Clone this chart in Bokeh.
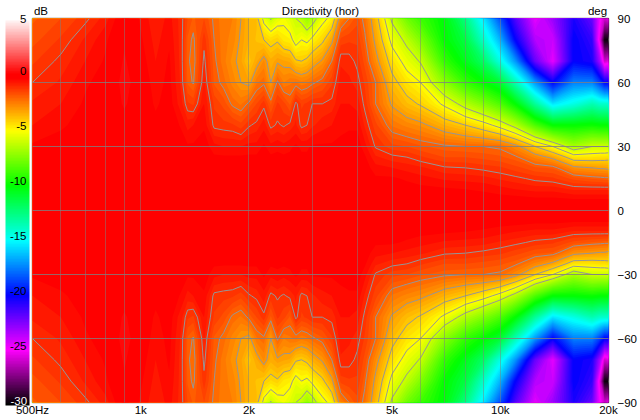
import numpy as np
from bokeh.plotting import figure
from bokeh.embed import file_html
from bokeh.resources import INLINE
from bokeh.models import ColorBar, FixedTicker, LinearAxis, LinearColorMapper, LinearScale, Range1d

freqs = [500, 600, 700, 800, 900, 1000, 1100, 1200, 1300, 1350, 1400, 1500, 1600, 1700, 1800, 1900,
         2000, 2100, 2200, 2300, 2400, 2500, 2600, 2700, 2800, 2900, 3000, 3200, 3400, 3600, 3800,
         4000, 4200, 4500, 5000, 5500, 6000, 7000, 8000, 9000, 10000, 11000, 12500, 14000, 16000,
         18000, 19000, 19500, 20000]
angles_top = [90, 80, 70, 60, 50, 40, 30, 25, 20, 15, 10, 5, 0]

f500 = [-1.8, -1.6, -1.3, -1.0, -.7, -.5, -.2, -.1, 0, 0, 0, 0, 0]
f600 = [-1.5, -1.2, -.9, -.7, -.5, -.3, -.1, -.05, 0, 0, 0, 0, 0]
f700 = [-1.1, -.7, -.5, -.3, -.2, -.1, -.05, 0, 0, 0, 0, 0, 0]
f800 = [-.6, -.3, -.2, -.1, -.05, 0, 0, 0, 0, 0, 0, 0, 0]
f900 = [.1, .2, .3, .4, .3, .1, 0, 0, 0, 0, 0, 0, 0]
f1000 = [-.3, -.2, -.1, 0, 0, 0, 0, 0, 0, 0, 0, 0, 0]
f1100 = [-.7, -.6, -.5, -.4, -.3, -.15, -.05, 0, 0, 0, 0, 0, 0]
f1200 = [-.4, -.3, -.2, -.15, -.1, -.05, 0, 0, 0, 0, 0, 0, 0]
f1300 = [-.9, -.9, -.9, -.85, -.7, -.3, -.1, -.05, 0, 0, 0, 0, 0]
f1350 = [-1.5, -1.8, -1.9, -1.8, -1.2, -.6, -.2, -.1, 0, 0, 0, 0, 0]
f1400 = [-1.8, -2.1, -2.2, -2.05, -1.3, -.5, -.2, -.1, 0, 0, 0, 0, 0]
f1500 = [-1.5, -1.1, -.9, -.7, -.5, -.3, -.1, -.05, 0, 0, 0, 0, 0]
f1600 = [-2.1, -2.0, -1.9, -1.8, -1.3, -1.1, -.4, -.2, -.1, 0, 0, 0, 0]
f1700 = [-2.4, -2.4, -2.4, -2.15, -1.6, -1.15, -.5, -.2, -.1, 0, 0, 0, 0]
f1800 = [-2.5, -2.6, -2.85, -2.6, -2.1, -1.2, -.5, -.2, -.1, 0, 0, 0, 0]
f1900 = [-3.0, -3.1, -3.2, -3.0, -2.3, -1.4, -.5, -.2, -.1, 0, 0, 0, 0]
f2000 = [-3.5, -3.5, -3.9, -3.2, -1.9, -1.05, -.4, -.2, -.1, 0, 0, 0, 0]
f2100 = [-3.7, -3.8, -3.3, -2.3, -1.5, -.9, -.4, -.2, -.1, 0, 0, 0, 0]
f2200 = [-5.3, -4.0, -2.7, -2.1, -1.1, -.6, -.2, -.1, 0, 0, 0, 0, 0]
f2300 = [-6.1, -4.3, -3.4, -3.0, -1.8, -1.1, -.4, -.2, -.1, 0, 0, 0, 0]
f2400 = [-5.5, -4.1, -3.1, -1.9, -1.2, -.95, -.3, -.2, -.1, 0, 0, 0, 0]
f2500 = [-5.2, -4.6, -3.2, -2.5, -1.4, -1.05, -.4, -.2, -.1, 0, 0, 0, 0]
f2600 = [-5.6, -4.7, -3.3, -2.3, -1.8, -.9, -.3, -.2, -.1, 0, 0, 0, 0]
f2700 = [-6.0, -5.4, -3.9, -2.2, -.9, -.7, -.2, -.1, 0, 0, 0, 0, 0]
f2800 = [-6.3, -5.0, -4.0, -2.4, -1.3, -1.1, -.3, -.2, -.1, 0, 0, 0, 0]
f2900 = [-7.0, -5.2, -3.8, -2.3, -1.2, -1.0, -.3, -.2, -.1, 0, 0, 0, 0]
f3000 = [-6.5, -4.8, -3.4, -2.1, -1.0, -.8, -.2, -.1, 0, 0, 0, 0, 0]
f3200 = [-5.3, -4.2, -2.9, -1.8, -1.0, -.6, -.2, -.1, 0, 0, 0, 0, 0]
f3400 = [-4.7, -3.2, -2.0, -1.3, -.9, -.5, -.2, -.1, 0, 0, 0, 0, 0]
f3600 = [-2.5, -1.4, -.8, -.6, -.5, -.3, -.2, -.1, 0, 0, 0, 0, 0]
f3800 = [-2.0, -1.3, -.85, -.7, -.5, -.3, -.1, -.05, 0, 0, 0, 0, 0]
f4000 = [-1.6, -1.3, -1.1, -.85, -.6, -.3, -.1, -.05, 0, 0, 0, 0, 0]
f4200 = [-2.2, -1.9, -1.6, -1.3, -1.1, -.8, -.4, -.2, -.1, 0, 0, 0, 0]
f4500 = [-3.6, -3.2, -2.7, -2.0, -2.0, -1.4, -1.05, -.7, -.4, -.2, -.05, 0, 0]
f5000 = [-6.2, -5.3, -4.4, -3.7, -3.1, -2.3, -1.4, -.9, -.5, -.2, -.1, 0, 0]
f5500 = [-7.8, -6.3, -5.4, -4.5, -3.7, -2.6, -1.5, -1.0, -.6, -.3, -.1, 0, 0]
f6000 = [-8.8, -7.5, -6.1, -5.0, -4.1, -2.8, -1.7, -1.2, -.7, -.4, -.15, 0, 0]
f7000 = [-10.2, -10.0, -9.0, -7.3, -5.2, -3.5, -1.9, -1.5, -.95, -.55, -.2, -.05, 0]
f8000 = [-12.5, -11.3, -10.5, -9.0, -6.5, -4.0, -2.0, -1.5, -1.0, -.6, -.25, -.05, 0]
f9000 = [-15.5, -14.0, -12.0, -10.0, -7.5, -4.6, -2.0, -1.6, -1.1, -.65, -.3, -.1, 0]
f10000 = [-18.5, -16.5, -14.5, -11.0, -8.5, -5.4, -2.1, -1.7, -1.2, -.8, -.4, -.1, 0]
f11000 = [-21.5, -20.0, -17.0, -13.5, -10.0, -6.4, -2.7, -1.9, -1.4, -.9, -.5, -.1, 0]
f12500 = [-24.5, -23.5, -22.0, -17.0, -13.0, -8.5, -4.0, -2.6, -1.7, -1.1, -.6, -.15, 0]
f14000 = [-23.0, -24.0, -24.5, -20.0, -15.5, -10.0, -5.0, -3.2, -1.8, -1.2, -.6, -.15, 0]
f16000 = [-20.5, -20.0, -20.0, -17.5, -14.5, -10.0, -6.7, -4.5, -2.8, -1.6, -.8, -.2, 0]
f18000 = [-22.0, -21.0, -20.5, -17.5, -13.5, -9.8, -6.0, -4.5, -3.0, -1.8, -.8, -.2, 0]
f19000 = [-25.0, -26.0, -23.5, -19.0, -14.0, -10.0, -6.0, -4.4, -3.1, -1.85, -.8, -.2, 0]
f19500 = [-26.0, -29.8, -26.0, -20.0, -14.0, -10.0, -6.0, -4.4, -3.1, -1.9, -.8, -.2, 0]
f20000 = [-25.5, -29.8, -25.5, -20.0, -14.0, -10.0, -6.0, -4.3, -3.2, -1.9, -.8, -.2, 0]

columns = [f500, f600, f700, f800, f900, f1000, f1100, f1200, f1300, f1350, f1400, f1500, f1600, f1700,
           f1800, f1900, f2000, f2100, f2200, f2300, f2400, f2500, f2600, f2700, f2800, f2900, f3000,
           f3200, f3400, f3600, f3800, f4000, f4200, f4500, f5000, f5500, f6000, f7000, f8000, f9000,
           f10000, f11000, f12500, f14000, f16000, f18000, f19000, f19500, f20000]

contour_levels = [-6, -5, -4, -3, -2, -1]
freq_ticks = [500, 1000, 2000, 5000, 10000, 20000]
freq_labels = {500: "500Hz", 1000: "1k", 2000: "2k", 5000: "5k", 10000: "10k", 20000: "20k"}
freq_grid = [600, 700, 800, 900, 1000, 2000, 3000, 4000, 5000, 6000, 7000, 8000, 9000, 10000]
deg_ticks = [-90, -60, -30, 0, 30, 60, 90]
db_ticks = [5, 0, -5, -10, -15, -20, -25]
db_last_label = "-30"
head_labels = {"dB": 8.5, "Directivity (hor)": 288, "deg": 565}

# colour scale of the dB legend
stop_db = [-30, -25, -20, -15, -10, -5, -2.5, -0.2, 0.2, 5]
stop_r = [0, 255, 0, 0, 0, 255, 255, 255, 255, 255]
stop_g = [0, 0, 0, 255, 255, 255, 128, 0, 0, 240]
stop_b = [0, 255, 255, 255, 0, 0, 0, 0, 0, 240]


def colour(v):
    r = int(round(np.interp(v, stop_db, stop_r)))
    g = int(round(np.interp(v, stop_db, stop_g)))
    b = int(round(np.interp(v, stop_db, stop_b)))
    return "#%02x%02x%02x" % (r, g, b)


top = np.array(columns, dtype=float).T            # rows 90 .. 0
z = np.vstack([top, top[-2::-1]])[::-1]           # the response is symmetric about 0 deg
angles = np.array(angles_top + [-a for a in angles_top[-2::-1]], dtype=float)[::-1]

FONT = "Liberation Sans"
p = figure(width=640, height=420, output_backend="svg", toolbar_location=None,
           x_axis_type="log", x_range=(500, 20000), y_range=(-90, 90),
           y_axis_location="right", min_border_left=32, min_border_right=32,
           min_border_top=18, min_border_bottom=18,
           background_fill_color="#ff0000", border_fill_color="#ffffff",
           outline_line_color="#7a7a7a", outline_line_width=1.5,
           styles={"position": "absolute", "left": "0px", "top": "0px"})

# nested filled regions: each level paints everything above it, so no seams appear between bands
step_levels = [float(v) for v in np.arange(-30, 1.01, 0.25)]
for low in step_levels:
    p.contour(freqs, angles, z, levels=[low, 6.0], fill_color=colour(low + 0.125), line_color=None)
p.contour(freqs, angles, z, levels=contour_levels, line_color="#969696", line_width=1)

bottom_axis = p.below[0]
right_axis = p.right[0]
bottom_axis.ticker = FixedTicker(ticks=freq_ticks)
bottom_axis.major_label_overrides = freq_labels
right_axis.ticker = FixedTicker(ticks=deg_ticks)

# extra scales for the legend labels and the heading row
p.extra_y_ranges = {"db": Range1d(-30.18, 4.73)}
p.extra_x_ranges = {"head": Range1d(0, 576)}
p.extra_x_scales = {"head": LinearScale()}
left_axis = LinearAxis(y_range_name="db", level="overlay")
left_axis.ticker = FixedTicker(ticks=[min(t, 4.72) for t in db_ticks])
left_axis.major_label_overrides = {min(t, 4.72): str(t) for t in db_ticks}
p.add_layout(left_axis, "left")
head_axis = LinearAxis(x_range_name="head")
head_axis.ticker = FixedTicker(ticks=list(head_labels.values()))
head_axis.major_label_overrides = {v: k for k, v in head_labels.items()}
p.add_layout(head_axis, "above")

for ax in (bottom_axis, right_axis, left_axis, head_axis):
    ax.axis_line_color = None
    ax.major_tick_line_color = None
    ax.minor_tick_line_color = None
    ax.major_tick_out = 0
    ax.major_tick_in = 0
    ax.minor_tick_out = 0
    ax.minor_tick_in = 0
    ax.major_label_text_font = FONT
    ax.major_label_text_font_size = "11.5px"
    ax.major_label_text_color = "#000000"
bottom_axis.major_label_standoff = 1
right_axis.major_label_standoff = 9
left_axis.major_label_standoff = 6
head_axis.major_label_standoff = 2

p.xgrid.ticker = FixedTicker(ticks=freq_grid)
p.ygrid.ticker = FixedTicker(ticks=deg_ticks[1:-1])
p.xgrid.grid_line_color = "#808080"
p.xgrid.grid_line_alpha = 0.5
p.xgrid.grid_line_width = 1
p.xgrid.level = "annotation"
p.ygrid.grid_line_color = "#808080"
p.ygrid.grid_line_alpha = 0.8
p.ygrid.grid_line_width = 1
p.ygrid.level = "annotation"

# dB legend to the left of the frame; its lowest label is white because it sits on the black end
mapper = LinearColorMapper(palette=[colour(v) for v in np.linspace(-30, 5, 256)], low=-30, high=5)
bar = ColorBar(color_mapper=mapper, ticker=FixedTicker(ticks=[-29.55]),
               major_label_overrides={-29.55: db_last_label}, major_label_text_color="#ffffff",
               major_label_text_font=FONT, major_label_text_font_size="11.5px",
               label_standoff=-19, width=24, height=385, padding=0,
               margin=0, location=(-27, -3), bar_line_color=None, major_tick_line_color=None,
               minor_tick_line_color=None, border_line_color=None, background_fill_color=None)
p.add_layout(bar, "center")

open("out.html", "w").write(file_html(p, INLINE))
